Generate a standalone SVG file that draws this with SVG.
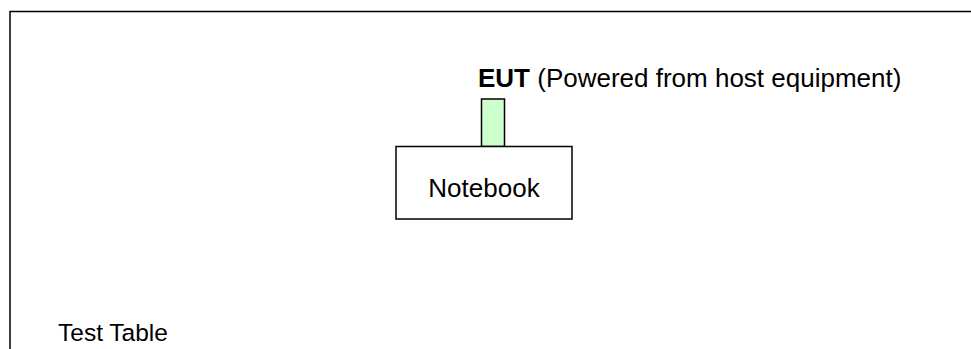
<svg xmlns="http://www.w3.org/2000/svg" width="971" height="349" viewBox="0 0 971 349">
<style>
.t{font-family:"Liberation Sans",Arial,sans-serif;fill:#000}
.box{fill:#fff;stroke:#000;stroke-width:1.5}
</style>
<rect width="971" height="349" fill="#fff"/>
<g id="test-table">
<path d="M10,349 V11.5 H971" fill="none" stroke="#000" stroke-width="1.5"/>
<text class="t" x="58" y="341" font-size="24.5">Test Table</text>
</g>
<g id="connectors"></g>
<g id="eut">
<rect x="481.5" y="99" width="23" height="47.5" fill="#ccffcc" stroke="#000" stroke-width="1.5"/>
<text class="t" x="478" y="87" font-size="26"><tspan font-weight="bold">EUT</tspan> (Powered from host equipment)</text>
</g>
<g id="notebook">
<rect class="box" x="396" y="146.5" width="176" height="72.5"/>
<text class="t" x="484" y="197" font-size="26" text-anchor="middle">Notebook</text>
</g>
</svg>
